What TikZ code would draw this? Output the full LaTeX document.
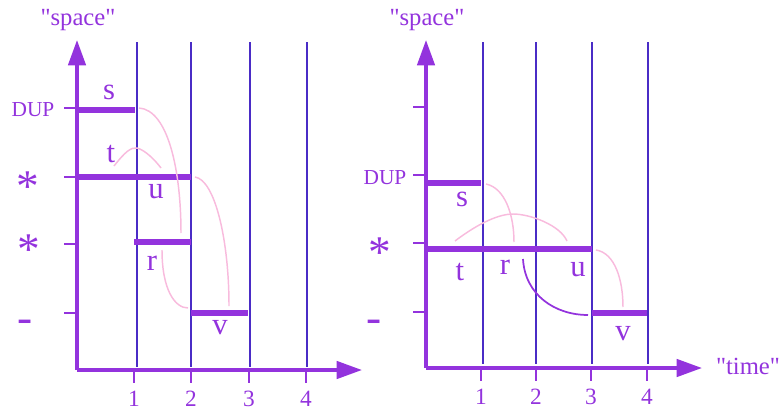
\documentclass[tikz,border=0pt]{standalone}
\usepackage{fontspec}
\setmainfont{Liberation Serif}
\newfontfamily\plainserif{Liberation Serif}
\usetikzlibrary{arrows.meta}
\definecolor{axispurple}{HTML}{9333DD}
\definecolor{gridblue}{HTML}{4A2CC6}
\definecolor{linkpink}{HTML}{F8BBDD}

\begin{document}
\begin{tikzpicture}[x=0.75pt, y=-0.75pt,
    axis/.style={axispurple, line width=2.6pt, -{Triangle[length=19pt, width=13pt]}},
    gridline/.style={gridblue, line width=2pt},
    tickmark/.style={axispurple, line width=1.5pt},
    jobbar/.style={axispurple, line width=5pt},
    link/.style={linkpink, line width=1.1pt},
    backlink/.style={axispurple, line width=1.3pt},
    jobname/.style={text=axispurple, font=\fontsize{23}{23}\selectfont, inner sep=0pt},
    axisname/.style={text=axispurple, font=\plainserif\fontsize{18.5}{18.5}\selectfont, inner sep=0pt},
    levelname/.style={text=axispurple, font=\fontsize{16}{16}\selectfont, inner sep=0pt},
    starname/.style={text=axispurple, font=\fontsize{34}{34}\selectfont, inner sep=0pt},
    ticknum/.style={text=axispurple, font=\fontsize{17.5}{17.5}\selectfont, inner sep=0pt}
]
\useasboundingbox (0,0) rectangle (782,414);

% ---------------- left panel: before ----------------
\coordinate (Lo) at (77,370);
\coordinate (Ly) at (77,40);
\coordinate (Lx) at (362,370);
\foreach \x in {137,191,250,307} {
  \draw[gridline] (\x,42) -- (\x,367);
}
\foreach \x/\l in {134/1, 191/2, 249/3, 306/4} {
  \draw[tickmark] (\x,370) -- (\x,383);
  \node[ticknum] at (\x,399) {\l};
}
\foreach \y in {108,177,244,313} {
  \draw[tickmark] (64,\y) -- (77,\y);
}
\draw[axis] (Lo) -- (Ly);
\draw[axis] (Lo) -- (Lx);
\node[axisname] (Lspace) at (78,20) {"space"};
\node[levelname] (Ldup) at (33,110) {DUP};
\node[starname] (Lstar1) at (28,187) {*};
\node[starname] (Lstar2) at (29,250) {*};
\node[starname] (Lnil) at (25,326) {-};

% jobs
\coordinate (Ls0) at (77,110);  \coordinate (Ls1) at (135,110);
\coordinate (Lt0) at (77,177);  \coordinate (Lt1) at (191,177);
\coordinate (Lr0) at (134,242); \coordinate (Lr1) at (191,242);
\coordinate (Lv0) at (191,313); \coordinate (Lv1) at (248,313);
\draw[jobbar] (Ls0) -- (Ls1);
\draw[jobbar] (Lt0) -- (Lt1);
\draw[jobbar] (Lr0) -- (Lr1);
\draw[jobbar] (Lv0) -- (Lv1);
\node[jobname] (Ls) at (109,92) {s};
\node[jobname] (Lt) at (111,154) {t};
\node[jobname] (Lu) at (156,192) {u};
\node[jobname] (Lr) at (152,263) {r};
\node[jobname] (Lv) at (220,328) {v};

% links
\coordinate (La) at (139,108);  \coordinate (Lb) at (181,233);
\coordinate (Lc) at (114,166);  \coordinate (Ld) at (137,148);
\coordinate (Le) at (161,168);
\coordinate (Lf) at (195,177);  \coordinate (Lg) at (229,306);
\coordinate (Lh) at (162,250);  \coordinate (Li) at (188,308);
\draw[link] (La) .. controls (168,110) and (181,170) .. (Lb);
\draw[link] (Lc) .. controls (125,152) and (131,147) .. (Ld)
                 .. controls (145,150) and (155,160) .. (Le);
\draw[link] (Lf) .. controls (215,180) and (229,240) .. (Lg);
\draw[link] (Lh) .. controls (162,290) and (175,308) .. (Li);

% ---------------- right panel: after ----------------
\coordinate (Ro) at (426,368);
\coordinate (Ry) at (426,40);
\coordinate (Rx) at (702,368);
\foreach \x in {483,536,592,648} {
  \draw[gridline] (\x,42) -- (\x,364);
}
\foreach \x/\l in {481/1, 536/2, 591/3, 647/4} {
  \draw[tickmark] (\x,368) -- (\x,381);
  \node[ticknum] at (\x,397) {\l};
}
\foreach \y in {107,175,243,312} {
  \draw[tickmark] (413,\y) -- (426,\y);
}
\draw[axis] (Ro) -- (Ry);
\draw[axis] (Ro) -- (Rx);
\node[axisname] (Rspace) at (427,20) {"space"};
\node[axisname] (Rtime) at (748,366) {"time"};
\node[levelname] (Rdup) at (385,178) {DUP};
\node[starname] (Rstar) at (380,253) {*};
\node[starname] (Rnil) at (374,326) {-};

% jobs
\coordinate (Rs0) at (426,183); \coordinate (Rs1) at (481,183);
\coordinate (Rt0) at (426,249); \coordinate (Rt1) at (592,249);
\coordinate (Rv0) at (592,313); \coordinate (Rv1) at (647,313);
\draw[jobbar] (Rs0) -- (Rs1);
\draw[jobbar] (Rt0) -- (Rt1);
\draw[jobbar] (Rv0) -- (Rv1);
\node[jobname] (Rs) at (462,199) {s};
\node[jobname] (Rt) at (460,272) {t};
\node[jobname] (Rr) at (505,267) {r};
\node[jobname] (Ru) at (578,270) {u};
\node[jobname] (Rv) at (623,334) {v};

% links
\coordinate (Ra) at (486,184);  \coordinate (Rb) at (514,242);
\coordinate (Rc) at (455,241);  \coordinate (Rd) at (513,214);
\coordinate (Re) at (567,241);
\coordinate (Rf) at (596,250);  \coordinate (Rg) at (623,307);
\coordinate (Rh) at (523,259);  \coordinate (Ri) at (588,315);
\draw[link] (Ra) .. controls (505,188) and (514,215) .. (Rb);
\draw[link] (Rc) .. controls (480,222) and (500,214) .. (Rd)
                 .. controls (530,214) and (560,225) .. (Re);
\draw[link] (Rf) .. controls (615,253) and (623,280) .. (Rg);
\draw[backlink] (Rh) .. controls (525,295) and (555,315) .. (Ri);
\end{tikzpicture}
\end{document}
